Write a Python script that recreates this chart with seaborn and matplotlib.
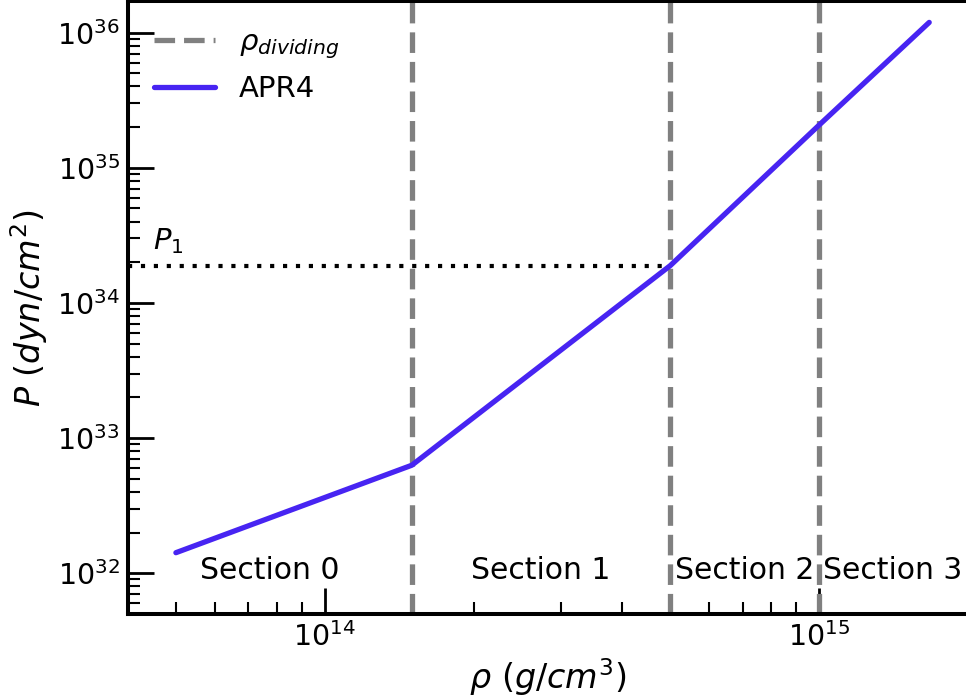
import numpy as np
import pandas as pd
import matplotlib
matplotlib.use("Agg")
import matplotlib.pyplot as plt
from matplotlib.ticker import NullFormatter
import seaborn as sns

# ---- data ----
rho_apr4 = [5.0e13, 1.5e14, 5.0e14, 1.0e15, 1.67e15]        # g/cm^3
p_apr4 = [1.42e32, 6.3e32, 1.89e34, 2.07e35, 1.19e36]         # dyn/cm^2
rho_dividing = [1.5e14, 5.0e14, 1.0e15]
p1_value = 1.89e34
section_labels = ["Section 0", "Section 1", "Section 2", "Section 3"]
section_x = [7.75e13, 2.74e14, 7.07e14, 1.41e15]
xlim = (4.0e13, 2.0e15)
ylim = (5.0e31, 1.7e36)

sns.set_style("ticks")
plt.rcParams["font.family"] = ["DejaVu Sans"]
plt.rcParams["mathtext.fontset"] = "dejavusans"
for k in ["text.color", "axes.labelcolor", "xtick.color", "ytick.color",
          "xtick.labelcolor", "ytick.labelcolor", "axes.edgecolor"]:
    plt.rcParams[k] = "black"

fig = plt.figure(figsize=(9.66, 7.0), dpi=100)
ax = fig.add_axes([0.1325, 0.1229, 0.8695, 0.8750])
ax.set_xscale("log")
ax.set_yscale("log")

# dividing densities
for i, r in enumerate(rho_dividing):
    ax.axvline(r, color="grey", lw=3.8, ls=(0, (3.9, 1.7)),
               label=r"$\rho_{dividing}$" if i == 0 else None, zorder=2)

df = pd.DataFrame({"rho": rho_apr4, "P": p_apr4})
sns.lineplot(data=df, x="rho", y="P", ax=ax, color="#4724f2", lw=3.8,
             label="APR4", sort=True, zorder=3)

# P1 dotted line
ax.plot([xlim[0], rho_dividing[1]], [p1_value, p1_value], color="black",
        lw=3.0, ls=(0, (1, 2.1)), zorder=2)
ax.text(4.5e13, 2.5e34, r"$P_1$", fontsize=21, ha="left", va="baseline")

for lab, xs in zip(section_labels, section_x):
    ax.text(xs, 9.0e31, lab, fontsize=21.5, ha="center", va="baseline")

ax.set_xlim(*xlim)
ax.set_ylim(*ylim)

ax.set_xlabel(r"$\rho\ (g/cm^3)$", fontsize=24, labelpad=3)
ax.set_ylabel(r"$P\ (dyn/cm^2)$", fontsize=24)
ax.yaxis.set_label_coords(-0.093, 0.5)

ax.tick_params(which="major", direction="in", length=19, width=2.0,
               labelsize=20.5, pad=6, color="black")
ax.tick_params(which="minor", direction="in", length=8.5, width=1.5,
               color="black")
ax.xaxis.set_minor_formatter(NullFormatter())
ax.yaxis.set_minor_formatter(NullFormatter())

for s in ax.spines.values():
    s.set_linewidth(2.9)
    s.set_color("black")

ax.legend(loc="upper left", frameon=False, fontsize=21, handlelength=2.1,
          handletextpad=0.8)

fig.savefig("out.png", dpi=100)
